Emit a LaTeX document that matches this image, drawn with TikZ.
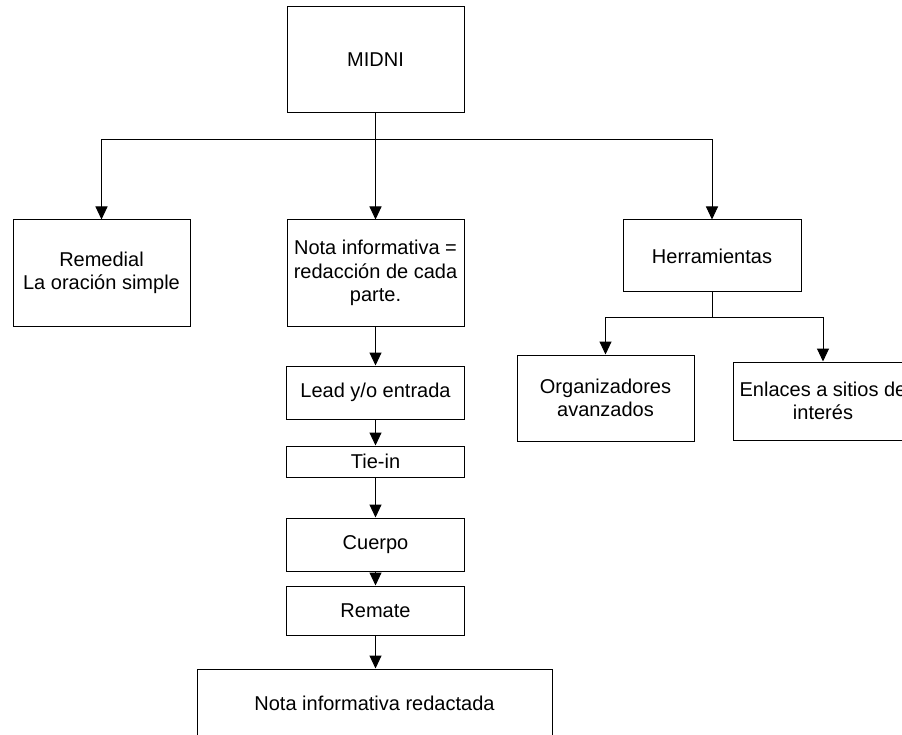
\documentclass[tikz,border=0pt]{standalone}
\usepackage{fontspec}
\setmainfont{Liberation Sans}
\usetikzlibrary{arrows.meta}
\begin{document}
\begin{tikzpicture}[x=1pt,y=-1pt,
  box/.style={draw, line width=1pt, align=center, inner sep=0pt,
    font=\fontsize{20}{23.5}\selectfont},
  link/.style={line width=1pt},
  arr/.style={line width=1pt, -{Triangle[length=13pt,width=12pt]}}]
\useasboundingbox (0,0) rectangle (902,735);
\node[box, minimum width=177pt, minimum height=106pt] (midni) at (375.5,60) {MIDNI};
\node[box, minimum width=177pt, minimum height=106pt] (rem) at (101.5,273) {Remedial\\La oración simple};
\node[box, minimum width=177pt, minimum height=106pt] (nota) at (375.5,273) {Nota informativa =\\redacción de cada\\parte.};
\node[box, minimum width=178pt, minimum height=72pt] (herr) at (712,256) {Herramientas};
\node[box, minimum width=177pt, minimum height=86pt] (org) at (605.5,398) {Organizadores\\avanzados};
\node[box, minimum width=180pt, minimum height=78pt] (enl) at (823,401) {Enlaces a sitios de\\interés};
\node[box, minimum width=178pt, minimum height=53pt] (lead) at (375.5,392.5) {Lead y/o entrada};
\node[box, minimum width=178pt, minimum height=31pt] (tie) at (375.5,461.5) {Tie-in};
\node[box, minimum width=178pt, minimum height=53pt] (cuer) at (375.5,544.5) {Cuerpo};
\node[box, minimum width=178pt, minimum height=49pt] (rema) at (375.5,610.5) {Remate};
\node[box, minimum width=355pt, minimum height=68pt] (fin) at (374.5,703) {Nota informativa redactada};
\coordinate (b1) at (375.5,140);
\coordinate (b2) at (712,317);
\draw[link] (midni.south) -- (b1);
\draw[arr] (b1) -| (rem.north);
\draw[arr] (b1) -- (nota.north);
\draw[arr] (b1) -| (herr.north);
\draw[link] (herr.south) -- (b2);
\draw[arr] (b2) -| (org.north);
\draw[arr] (b2) -| (enl.north);
\draw[arr] (nota.south) -- (lead.north);
\draw[arr] (lead.south) -- (tie.north);
\draw[arr] (tie.south) -- (cuer.north);
\draw[arr] (cuer.south) -- (rema.north);
\draw[arr] (rema.south) -- (rema.south |- fin.north);
\end{tikzpicture}
\end{document}
